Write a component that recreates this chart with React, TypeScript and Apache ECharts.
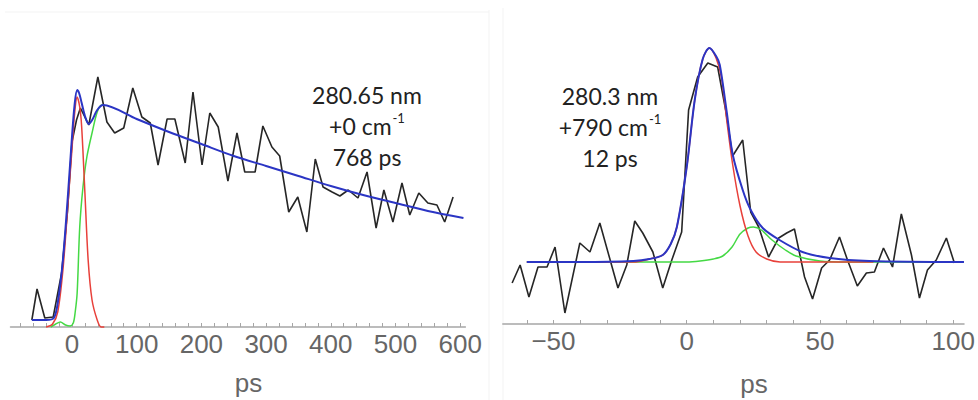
import React, { useEffect, useRef } from "react";
import * as echarts from "echarts";

// ---------- Left panel (280.65 nm) : [ps, intensity] ----------
const leftData: number[][] = [
  [-62, 7], [-54, 38], [-42, 9], [-29, 10], [-16, 54], [-7, 115], [0, 185], [7, 207], [13, 219],
  [26, 202], [40, 250], [54, 205], [66, 194], [80, 199], [94, 239], [108, 210], [121, 204],
  [133, 162], [147, 208], [159, 208], [175, 164], [187, 235], [201, 162], [213, 214], [226, 200],
  [241, 146], [255, 194], [267, 155], [283, 155], [295, 201], [309, 180], [321, 171], [335, 115],
  [349, 130], [363, 95], [376, 168], [388, 140], [402, 135], [414, 131], [427, 137], [442, 129],
  [456, 155], [470, 99], [482, 137], [496, 105], [510, 144], [522, 112], [536, 134], [550, 124],
  [564, 122], [576, 105], [589, 130],
];
const leftTotalFit: number[][] = [
  [-62, 7], [-40, 7], [-28, 9], [-22, 24], [-14, 67], [-6, 134], [0, 190], [4, 222], [8, 237],
  [11, 234], [15, 224], [20, 211], [26, 203], [32, 208], [39, 217], [48, 222], [100, 208],
  [150, 195], [200, 183], [250, 171], [300, 161], [350, 151], [400, 141], [450, 132], [500, 124],
  [550, 116], [605, 109],
];
const leftFastFit: number[][] = [
  [-40, 0], [-30, 3], [-22, 15], [-14, 57], [-6, 125], [0, 178], [4, 213], [8, 230], [12, 220],
  [15, 200], [20, 134], [25, 67], [31, 27], [39, 7], [45, 0], [50, 0],
];
const leftSlowFit: number[][] = [
  [-33, 0], [-25, 3], [-18, 5], [-10, 2], [-3, 1], [2, 4], [5, 15], [8, 34], [12, 100], [17, 140],
  [23, 170], [31, 194], [39, 215], [46, 222], [48, 222],
];
const leftTicks = [-80, -60, -40, -20, 0, 20, 40, 60, 80, 100, 120, 140, 160, 180, 200, 220, 240, 260, 280, 300, 320, 340, 360, 380, 400, 420, 440, 460, 480, 500, 520, 540, 560, 580, 600];
const leftLabels = [0, 100, 200, 300, 400, 500, 600];
const leftNote = ["280.65 nm", "+0 cm", "768 ps"];

// ---------- Right panel (280.3 nm) : [ps, intensity] ----------
const rightData: number[][] = [
  [-65.5, -21], [-62.5, -3], [-59.2, -35], [-55.8, -5], [-52.4, -5], [-49.4, 15], [-45.7, -51],
  [-40.1, 19], [-36.3, 10], [-32.6, 39], [-25.8, -26], [-22.5, -3], [-19.5, 41], [-16.5, 29],
  [-12.7, 10], [-9.0, -26], [-5.6, 2], [-1.9, 30], [0.7, 152], [4.1, 185], [7.9, 199], [11.6, 195],
  [14.6, 152], [17.2, 106], [21.0, 122], [24.0, 50], [27.0, 35], [30.7, 5], [34.5, 24], [37.5, 29],
  [40.4, 33], [44.2, -15], [47.2, -37], [50.6, -6], [53.6, 2], [57.3, 25], [60.3, 2], [64.0, -24],
  [67.4, -11], [70.4, -10], [73.8, 14], [77.2, -5], [80.5, 48], [84.3, 7], [87.3, -36], [90.3, -8],
  [93.6, 2], [97.4, 24], [100.4, -1],
];
const rightTotalFit: number[][] = [
  [-60, 0], [-40, 0], [-20, 1], [-14, 3], [-9, 7], [-6, 18], [-3.7, 35], [0, 95], [3, 162], [6, 203],
  [8.5, 214], [11, 206], [12.4, 197], [15, 150], [17.2, 108], [21, 72], [24, 52], [28.5, 34],
  [34.8, 22], [43.4, 10], [53.6, 4], [68.5, 1], [104, 0],
];
const rightFastFit: number[][] = [
  [-60, 0], [-20, 0], [-14, 3], [-9, 7], [-6, 18], [-3.7, 35], [0, 95], [3, 162], [6, 203],
  [8.5, 214], [11, 204], [13, 185], [15, 142], [17.2, 98], [20, 56], [23, 26], [26, 10], [30, 3],
  [35, 0], [70, 0],
];
const rightSlowFit: number[][] = [
  [-60, 0], [0, 0], [5, 1], [10, 3], [13.5, 6], [17, 15], [20, 28], [23, 34], [25, 35], [28, 32],
  [32, 22], [37, 12], [41, 6], [50, 1], [60, 0], [104, 0],
];
const rightTicks = [-60, -50, -40, -30, -20, -10, 0, 10, 20, 30, 40, 50, 60, 70, 80, 90, 100];
const rightLabels = [-50, 0, 50, 100];
const rightNote = ["280.3 nm", "+790 cm", "12 ps"];

const axisTitle = "ps";

const C_DATA = "#262626";
const C_TOTAL = "#2b35c4";
const C_FAST = "#e8403a";
const C_SLOW = "#44d944";
const AXIS_GRAY = "#a6a6a6";
const LABEL_GRAY = "#666666";
const TICK_FONT = "'Liberation Sans', Arial, sans-serif";
const NOTE_FONT = "Lato, 'Open Sans', sans-serif";

const fmt = (v: number) => (v < 0 ? "\u2212" + Math.abs(v) : String(v));

function xAxisFor(gridIndex: number, min: number, max: number, ticks: number[], labels: number[]) {
  return {
    type: "value",
    gridIndex,
    min,
    max,
    splitLine: { show: false },
    axisLine: { show: true, onZero: false, lineStyle: { color: AXIS_GRAY, width: 1.5 } },
    axisTick: { show: true, inside: true, length: 4, customValues: ticks, lineStyle: { color: AXIS_GRAY, width: 1 } },
    minorTick: { show: false },
    axisLabel: {
      customValues: labels,
      formatter: fmt,
      color: LABEL_GRAY,
      fontSize: 26,
      fontFamily: TICK_FONT,
      margin: 4,
    },
  };
}

function line(name: string, data: number[][], idx: number, color: string, width: number, smooth: number | boolean, z: number) {
  return {
    name,
    type: "line",
    xAxisIndex: idx,
    yAxisIndex: idx,
    data,
    showSymbol: false,
    symbol: "none",
    smooth,
    clip: false,
    z,
    lineStyle: { color, width },
  };
}

function noteTexts(lines: string[], cx: number, y0: number, gap: number) {
  const richSup = {
    sup: { fontSize: 13, fontFamily: NOTE_FONT, fill: "#222", verticalAlign: "top", lineHeight: 30, padding: [0, 0, 0, 1] },
  };
  return lines.map((t, i) => ({
    type: "text",
    x: cx,
    y: y0 + i * gap,
    style: {
      text: i === 1 ? t + "{sup|-1}" : t,
      fontSize: 23,
      fontFamily: NOTE_FONT,
      fill: "#222",
      textAlign: "center",
      textVerticalAlign: "middle",
      rich: richSup,
    },
  }));
}

export default function App() {
  const ref = useRef<HTMLDivElement>(null);
  useEffect(() => {
    if (!ref.current) return;
    const chart = echarts.init(ref.current, undefined, { renderer: "svg" });
    chart.setOption({
      animation: false,
      backgroundColor: "#ffffff",
      grid: [
        { left: 10.5, width: 454.9, top: 57, height: 270 },
        { left: 502.8, width: 461.9, top: 44, height: 280 },
      ],
      xAxis: [
        xAxisFor(0, -95, 608, leftTicks, leftLabels),
        xAxisFor(1, -69, 104, rightTicks, rightLabels),
      ],
      yAxis: [
        { type: "value", gridIndex: 0, min: 0, max: 270, show: false, splitLine: { show: false } },
        { type: "value", gridIndex: 1, min: -62, max: 218, show: false, splitLine: { show: false } },
      ],
      series: [
        line("data L", leftData, 0, C_DATA, 1.6, false, 2),
        line("slow L", leftSlowFit, 0, C_SLOW, 1.5, 0.3, 3),
        line("fast L", leftFastFit, 0, C_FAST, 1.5, 0.3, 4),
        line("total L", leftTotalFit, 0, C_TOTAL, 2, 0.3, 5),
        line("data R", rightData, 1, C_DATA, 1.6, false, 2),
        line("slow R", rightSlowFit, 1, C_SLOW, 1.5, 0.3, 3),
        line("fast R", rightFastFit, 1, C_FAST, 1.5, 0.3, 4),
        line("total R", rightTotalFit, 1, C_TOTAL, 2, 0.3, 5),
      ],
      graphic: [
        { type: "line", shape: { x1: 5, y1: 12, x2: 489, y2: 12 }, style: { stroke: "#f3f3f3", lineWidth: 1 }, silent: true },
        { type: "line", shape: { x1: 489, y1: 10, x2: 489, y2: 400 }, style: { stroke: "#f3f3f3", lineWidth: 1 }, silent: true },
        { type: "line", shape: { x1: 503, y1: 8, x2: 503, y2: 400 }, style: { stroke: "#f3f3f3", lineWidth: 1 }, silent: true },
        ...noteTexts(leftNote, 367, 95, 31),
        ...noteTexts(rightNote, 610, 96, 31),
        {
          type: "text", x: 248.5, y: 383,
          style: { text: axisTitle, fontSize: 26, fontFamily: TICK_FONT, fill: LABEL_GRAY, textAlign: "center", textVerticalAlign: "middle" },
        },
        {
          type: "text", x: 754, y: 384,
          style: { text: axisTitle, fontSize: 26, fontFamily: TICK_FONT, fill: LABEL_GRAY, textAlign: "center", textVerticalAlign: "middle" },
        },
      ],
    });
    return () => chart.dispose();
  }, []);
  return (
    <div
      ref={ref}
      style={{ position: "fixed", left: 0, top: 0, width: 978, height: 400, background: "#fff" }}
    />
  );
}
